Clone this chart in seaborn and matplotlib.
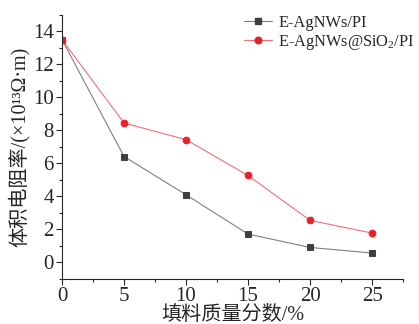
import numpy as np
import pandas as pd
import matplotlib
matplotlib.use("Agg")
import matplotlib.pyplot as plt
import seaborn as sns
from matplotlib.ticker import MultipleLocator
from matplotlib.lines import Line2D

# ---- data ----
filler = [0, 5, 10, 15, 20, 25]
agnws_pi = [13.5, 6.42, 4.1, 1.72, 0.91, 0.57]
agnws_sio2_pi = [13.5, 8.45, 7.44, 5.27, 2.55, 1.78]
series_names = ["E-AgNWs/PI", "E-AgNWs@SiO$_2$/PI"]
xticks = [0, 5, 10, 15, 20, 25]
yticks = [0, 2, 4, 6, 8, 10, 12, 14]

df = pd.DataFrame({
    "x": filler * 2,
    "y": agnws_pi + agnws_sio2_pi,
    "s": [series_names[0]] * len(filler) + [series_names[1]] * len(filler),
})

sns.set_style("ticks")
plt.rcParams["font.family"] = ["Liberation Serif", "Noto Sans CJK SC"]
plt.rcParams["mathtext.fontset"] = "custom"
plt.rcParams["mathtext.rm"] = "Liberation Serif"
plt.rcParams["mathtext.it"] = "Liberation Serif:italic"

fig = plt.figure(figsize=(4.19, 3.24), dpi=100)
ax = fig.add_axes([0.148, 0.139, 0.814, 0.815])

line_cols = {series_names[0]: "#808080", series_names[1]: "#f07070"}
marker_cols = ["#404040", "#e8202a"]
sns.lineplot(data=df, x="x", y="y", hue="s", style="s",
             palette=line_cols, markers={series_names[0]: "s", series_names[1]: "o"},
             dashes=False, linewidth=0.8, markersize=4.8, ax=ax, legend=False)

for line, mc in zip(ax.lines, marker_cols):
    line.set_markerfacecolor(mc)
    line.set_markeredgecolor(mc)

handles = [
    Line2D([], [], color="#808080", lw=0.8, marker="s", markersize=4.5,
           markerfacecolor=marker_cols[0], markeredgecolor=marker_cols[0]),
    Line2D([], [], color="#f07070", lw=0.8, marker="o", markersize=4.8,
           markerfacecolor=marker_cols[1], markeredgecolor=marker_cols[1]),
]
ax.legend(handles, series_names, loc="upper left",
          bbox_to_anchor=(244 / 419, 1 - 15 / 324), bbox_transform=fig.transFigure,
          frameon=False, fontsize=11.8, handlelength=1.7, handletextpad=0.4,
          labelspacing=0.1, borderaxespad=0, borderpad=0)

ax.set_xlim(0, 27.5)
ax.set_ylim(-1, 15)
ax.set_xticks(xticks)
ax.set_yticks(yticks)
ax.xaxis.set_minor_locator(MultipleLocator(2.5))
ax.yaxis.set_minor_locator(MultipleLocator(1))
ax.tick_params(axis="both", which="major", labelsize=15, length=4, width=0.8,
               direction="out", pad=2)
ax.tick_params(axis="both", which="minor", length=2.5, width=0.8, direction="out")
for sp in ["left", "bottom"]:
    ax.spines[sp].set_linewidth(0.8)
sns.despine(ax=ax)

ax.set_xlabel("填料质量分数/%", fontsize=14.5, labelpad=0)
ax.set_ylabel("体积电阻率/(×10¹³Ω·m)", fontsize=14.5, labelpad=2)

fig.savefig("out.png", dpi=100)
